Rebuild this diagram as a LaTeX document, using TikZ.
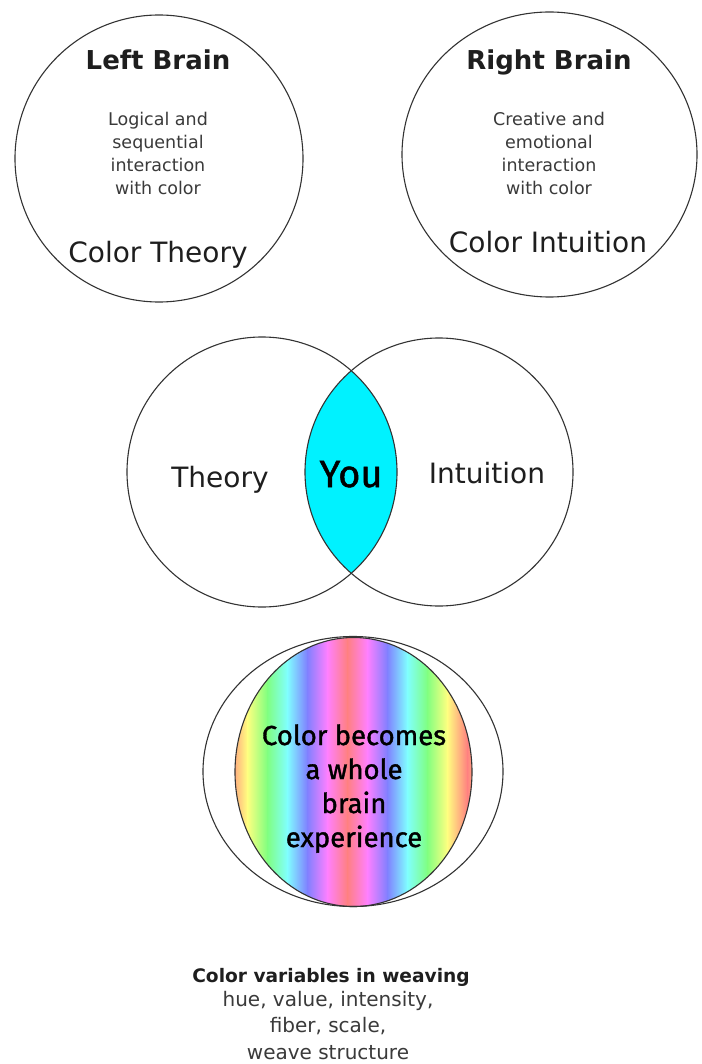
\documentclass[tikz,border=0pt]{standalone}
\usepackage{fontspec}
\setmainfont{DejaVu Sans}
\newfontfamily\comicfont[FakeBold=1.3]{Fira Sans}
\usetikzlibrary{shapes.geometric}
\definecolor{ink}{HTML}{1E1E1E}
\definecolor{subink}{HTML}{3A3A3A}
\definecolor{edge}{HTML}{333333}
\definecolor{lens}{HTML}{00F2FF}
\definecolor{pR}{HTML}{FF8080}
\definecolor{pY}{HTML}{FFFF80}
\definecolor{pG}{HTML}{80FF80}
\definecolor{pC}{HTML}{80FFFF}
\definecolor{pB}{HTML}{8080FF}
\definecolor{pM}{HTML}{FF80FF}
\tikzset{
  ring/.style={draw=edge, line width=1.1pt, ellipse, inner sep=0pt},
  title/.style={anchor=base, text=ink, font=\bfseries\fontsize{26}{30}\selectfont},
  sub/.style={anchor=base, align=center, text=subink, font=\fontsize{17.5}{23}\selectfont},
  big/.style={anchor=base, text=ink, font=\fontsize{28}{32}\selectfont},
  comic/.style={anchor=base, align=center, text=black, font=\comicfont\fontsize{27.5}{34}\selectfont},
  foot/.style={anchor=base, align=center, text=subink, font=\fontsize{20}{26.5}\selectfont},
}
\begin{document}
\begin{tikzpicture}[x=1pt,y=-1pt]
\useasboundingbox (0,0) rectangle (701,1064);
\fill[white] (0,0) rectangle (701,1064);

% top circles
\node[ring, minimum width=288pt, minimum height=287pt] (lc) at (159,158.5) {};
\node[ring, minimum width=295pt, minimum height=285pt] (rc) at (549.5,154.5) {};
\node[title] (lt) at (158,70) {Left Brain};
\node[sub] (ls) at (158,195) {Logical and\\sequential\\interaction\\with color};
\node[big] (lb) at (158,262) {Color Theory};
\node[title] (rt) at (549,70) {Right Brain};
\node[sub] (rs) at (549,195) {Creative and\\emotional\\interaction\\with color};
\node[big] (rb) at (548,253) {Color Intuition};

% venn
\begin{scope}
  \clip (262,472) circle (135pt);
  \fill[lens] (439,472) circle (134pt);
\end{scope}
\node[ring, circle, minimum size=270pt] (vl) at (262,472) {};
\node[ring, circle, minimum size=268pt] (vr) at (439,472) {};
\node[big] (th) at (220,487) {Theory};
\node[big] (it) at (487,483) {Intuition};
\node[anchor=base, text=black, font=\comicfont\fontsize{38}{40}\selectfont] (you) at (351,487) {You};

% whole brain
\begin{scope}
  \clip (353.5,772) ellipse [x radius=118.5pt, y radius=134.5pt];
  \foreach \xa/\ca/\cb in {207/pY/pR, 227/pR/pY, 247/pY/pG, 267/pG/pC, 287/pC/pB, 307/pB/pM, 327/pM/pR, 347/pR/pM, 367/pM/pB, 387/pB/pC, 407/pC/pG, 427/pG/pY, 447/pY/pR, 467/pR/pY}
    \shade[left color=\ca, right color=\cb] (\xa,630) rectangle ({\xa+20.6},915);
\end{scope}
\node[ring, minimum width=300pt, minimum height=270pt] (wo) at (353,771.5) {};
\node[ring, minimum width=237pt, minimum height=269pt] (wi) at (353.5,772) {};
\node[comic] (wt) at (354,847) {Color becomes\\a whole\\brain\\experience};

% footer
\node[anchor=base, text=ink, font=\bfseries\fontsize{18.6}{24}\selectfont] (fh) at (331,982) {Color variables in weaving};
\node[foot] (fl) at (328,1059) {hue, value, intensity,\\fiber, scale,\\weave structure};
\end{tikzpicture}
\end{document}
